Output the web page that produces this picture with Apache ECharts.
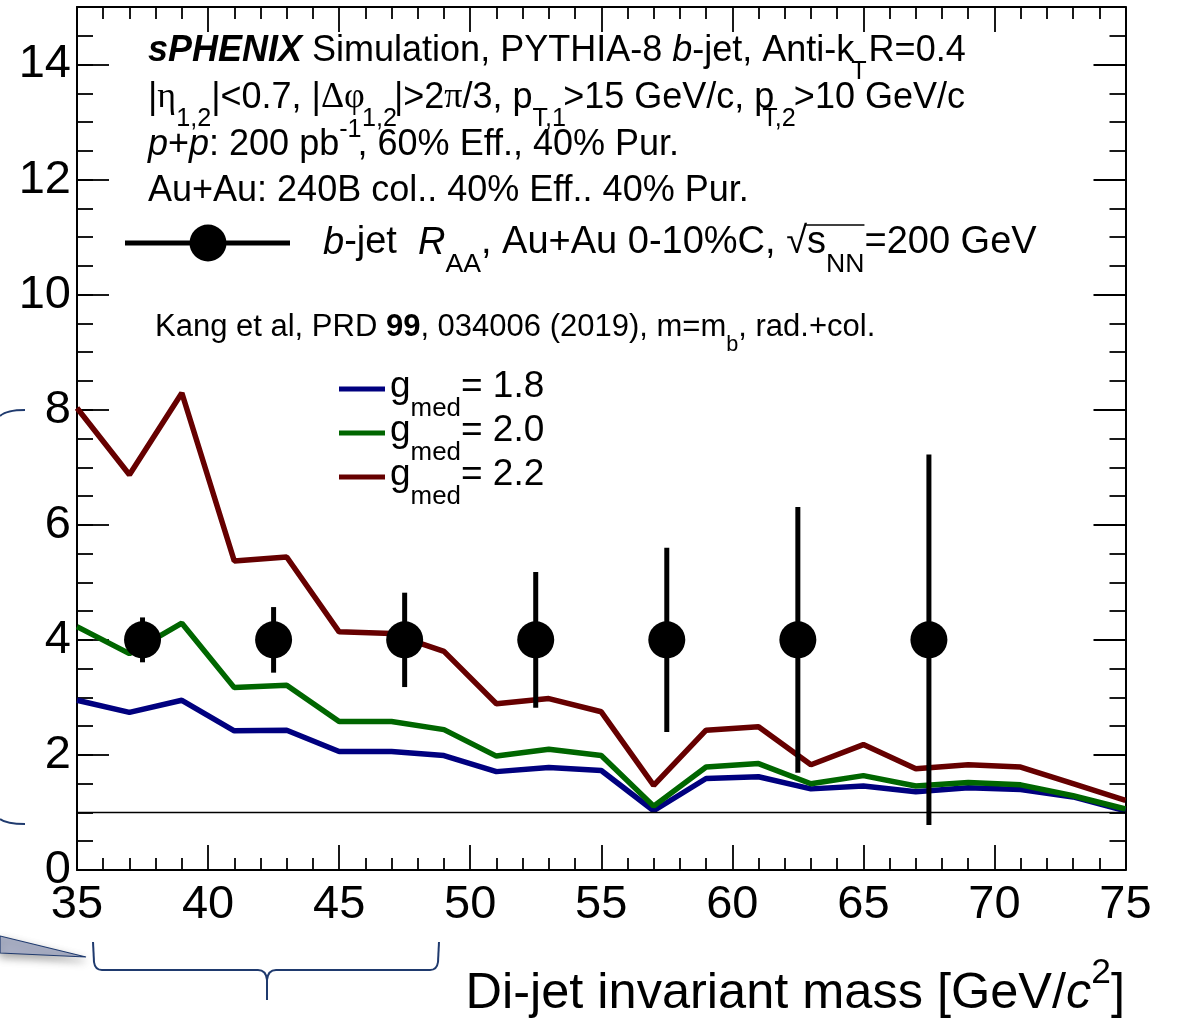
<!DOCTYPE html>
<html>
<head>
<meta charset="utf-8">
<script src="https://cdn.jsdelivr.net/npm/echarts@6/dist/echarts.min.js"></script>
<style>
  html, body { margin: 0; padding: 0; background: #fff; }
  #chart { width: 1178px; height: 1019px; }
</style>
</head>
<body>
<div id="chart"></div>
<script>
// ---- Theory curves (Kang et al., rad.+col.), one value per 2 GeV/c^2 ----
const massGrid = [35, 37, 39, 41, 43, 45, 47, 49, 51, 53, 55, 57, 59, 61, 63, 65, 67, 69, 71, 73, 75];
const raaG18 = [2.95, 2.74, 2.95, 2.42, 2.43, 2.06, 2.06, 1.99, 1.71, 1.78, 1.73, 1.03, 1.59, 1.62, 1.41, 1.46, 1.36, 1.43, 1.40, 1.27, 1.03];
const raaG20 = [4.23, 3.76, 4.29, 3.17, 3.21, 2.58, 2.58, 2.44, 1.98, 2.10, 1.99, 1.11, 1.79, 1.85, 1.50, 1.64, 1.46, 1.52, 1.48, 1.29, 1.06];
const raaG22 = [8.03, 6.87, 8.29, 5.37, 5.44, 4.14, 4.11, 3.80, 2.89, 2.98, 2.75, 1.47, 2.43, 2.49, 1.83, 2.18, 1.76, 1.83, 1.79, 1.50, 1.21];

// ---- Projected b-jet R_AA points with statistical uncertainties ----
const binCenters = [37.5, 42.5, 47.5, 52.5, 57.5, 62.5, 67.5];
const projValue = [4, 4, 4, 4, 4, 4, 4];
const projError = [0.39, 0.57, 0.82, 1.18, 1.60, 2.31, 3.22];

// ---- Axes ----
const xRange = [35, 75];
const xMajorStep = 5;
const yRange = [0, 15];
const yTickValues = [0, 2, 4, 6, 8, 10, 12, 14];
const yMinorStep = 0.5;
const unityLevel = 1;

const seriesColors = { g18: '#00007f', g20: '#006600', g22: '#660000' };
const FONT = '"Liberation Sans", Arial, Helvetica, sans-serif';
const SERIF = '"Liberation Serif", "DejaVu Serif", serif';

// ---------- small TLatex-like text layout (normal / italic / sub / sup) ----------
const measureCtx = document.createElement('canvas').getContext('2d');
function runStyle(kind, size) {
  const st = { size: size, italic: false, bold: false, family: FONT, dy: 0 };
  if (kind === 'i') st.italic = true;
  if (kind === 'b') st.bold = true;
  if (kind === 'bi') { st.bold = true; st.italic = true; }
  if (kind === 'g') st.family = SERIF;
  if (kind === 'sub') { st.size = size * 0.7; st.dy = size * 0.58; }
  if (kind === 'sup') { st.size = size * 0.7; st.dy = -size * 0.42; }
  return st;
}
function cssFont(st) {
  return (st.italic ? 'italic ' : '') + (st.bold ? 'bold ' : '') + st.size + 'px ' + st.family;
}
function latexText(x, y, size, parts, align) {
  const items = parts.map(p => {
    const st = runStyle(p.s || 'n', size);
    measureCtx.font = cssFont(st);
    const w = measureCtx.measureText(p.t).width;
    return { p: p, st: st, w: w, dx: p.dx || 0 };
  });
  const total = items.reduce((a, it) => a + it.w + it.dx, 0);
  let cx = align === 'right' ? x - total : x;
  const els = [];
  const pos = {};
  items.forEach(it => {
    cx += it.dx;
    els.push({
      type: 'text', z: 20, silent: true,
      x: cx, y: y + it.st.dy,
      style: {
        text: it.p.t, fill: '#000',
        fontSize: it.st.size, fontFamily: it.st.family,
        fontStyle: it.st.italic ? 'italic' : 'normal',
        fontWeight: it.st.bold ? 'bold' : 'normal',
        align: 'left', verticalAlign: 'middle'
      }
    });
    if (it.p.id) pos[it.p.id] = { x0: cx, x1: cx + it.w };
    cx += it.w;
  });
  return { els: els, pos: pos };
}

// ---------- text blocks ----------
const graphics = [];
const H = 36;
graphics.push(...latexText(148, 51, H, [
  { t: 'sPHENIX', s: 'bi' }, { t: ' Simulation, PYTHIA-8 ' }, { t: 'b', s: 'i' },
  { t: '-jet, Anti-k' }, { t: 'T', s: 'sub', dx: -3 }, { t: ' R=0.4', dx: -8 }
]).els);
graphics.push(...latexText(148, 98, H, [
  { t: '|' }, { t: 'η', s: 'g' }, { t: '1,2', s: 'sub' }, { t: '|<0.7, |' },
  { t: 'Δφ', s: 'g' }, { t: '1,2', s: 'sub', dx: -3 }, { t: '|>2', dx: -3 }, { t: 'π', s: 'g' },
  { t: '/3, p' }, { t: 'T,1', s: 'sub' }, { t: '>15 GeV/c, p', dx: -3 }, { t: 'T,2', s: 'sub', dx: -12 },
  { t: '>10 GeV/c', dx: -2 }
]).els);
graphics.push(...latexText(148, 145, H, [
  { t: 'p', s: 'i' }, { t: '+' }, { t: 'p', s: 'i' }, { t: ': 200 pb' },
  { t: '-1', s: 'sup' }, { t: ', 60% Eff., 40% Pur.', dx: -4 }
]).els);
graphics.push(...latexText(148, 191, H, [
  { t: 'Au+Au: 240B col.. 40% Eff.. 40% Pur.' }
]).els);

// legend entry for the projected points
const legendLine = latexText(323, 243, 38, [
  { t: 'b', s: 'i' }, { t: '-jet  ' }, { t: 'R', s: 'i' }, { t: 'AA', s: 'sub' },
  { t: ', Au+Au 0-10%C, ' }, { t: '√', id: 'rad' }, { t: 's', id: 's' },
  { t: 'NN', s: 'sub', id: 'nn' }, { t: '=200 GeV' }
]);
graphics.push(...legendLine.els);
graphics.push({
  type: 'line', z: 20, silent: true,
  shape: { x1: legendLine.pos.rad.x1 - 1, y1: 225, x2: legendLine.pos.nn.x1, y2: 225 },
  style: { stroke: '#000', lineWidth: 1.6 }
});
graphics.push({
  type: 'line', z: 20, silent: true,
  shape: { x1: 125, y1: 243, x2: 290, y2: 243 },
  style: { stroke: '#000', lineWidth: 5 }
});
graphics.push({
  type: 'circle', z: 21, silent: true,
  shape: { cx: 208, cy: 243, r: 18.5 },
  style: { fill: '#000' }
});

graphics.push(...latexText(155, 327, 31, [
  { t: 'Kang et al, PRD ' }, { t: '99', s: 'b' }, { t: ', 034006 (2019), m=m' },
  { t: 'b', s: 'sub' }, { t: ', rad.+col.' }
]).els);

// theory legend
const theoryLegend = [
  { label: '= 1.8', color: seriesColors.g18, y: 389 },
  { label: '= 2.0', color: seriesColors.g20, y: 433 },
  { label: '= 2.2', color: seriesColors.g22, y: 477 }
];
theoryLegend.forEach(e => {
  graphics.push({
    type: 'line', z: 20, silent: true,
    shape: { x1: 339, y1: e.y, x2: 385, y2: e.y },
    style: { stroke: e.color, lineWidth: 5 }
  });
  graphics.push(...latexText(390, e.y - 2, 37, [
    { t: 'g' }, { t: 'med', s: 'sub' }, { t: e.label }
  ]).els);
});

// x-axis title
graphics.push(...latexText(1125, 994, 50.5, [
  { t: 'Di-jet invariant mass [GeV/' }, { t: 'c', s: 'i' }, { t: '2', s: 'sup' }, { t: ']' }
], 'right').els);

// slide annotations around the frame
const annot = '#1f3a6e';
graphics.push({
  type: 'polygon', z: 1, silent: true,
  shape: { points: [[0, 936], [86, 957], [0, 953]] },
  style: { fill: '#aab0c6', stroke: annot, lineWidth: 1.2,
           shadowBlur: 8, shadowColor: 'rgba(0,0,0,0.35)', shadowOffsetY: 4 }
});
const bracketStyle = { stroke: annot, lineWidth: 2, fill: null };
[
  { type: 'line', shape: { x1: 93, y1: 942, x2: 94, y2: 962 } },
  { type: 'bezierCurve', shape: { x1: 94, y1: 962, cpx1: 95, cpy1: 970, x2: 102, y2: 970 } },
  { type: 'line', shape: { x1: 102, y1: 970, x2: 258, y2: 970 } },
  { type: 'bezierCurve', shape: { x1: 258, y1: 970, cpx1: 266, cpy1: 970, x2: 267, y2: 980 } },
  { type: 'line', shape: { x1: 267, y1: 980, x2: 267, y2: 1000 } },
  { type: 'bezierCurve', shape: { x1: 267, y1: 980, cpx1: 268, cpy1: 970, x2: 276, y2: 970 } },
  { type: 'line', shape: { x1: 276, y1: 970, x2: 430, y2: 970 } },
  { type: 'bezierCurve', shape: { x1: 430, y1: 970, cpx1: 437, cpy1: 970, x2: 438, y2: 962 } },
  { type: 'line', shape: { x1: 438, y1: 962, x2: 439, y2: 942 } },
  { type: 'bezierCurve', shape: { x1: 0, y1: 416, cpx1: 6, cpy1: 410, x2: 25, y2: 410 } },
  { type: 'bezierCurve', shape: { x1: 0, y1: 819, cpx1: 6, cpy1: 824, x2: 25, y2: 824 } }
].forEach(el => {
  graphics.push(Object.assign({ z: 1, silent: true, style: bracketStyle }, el));
});

// ---------- axes ----------
const black = '#000';
function xAx(pos, showLabel) {
  return {
    type: 'value', position: pos, min: xRange[0], max: xRange[1], interval: xMajorStep,
    axisLine: { show: true, onZero: false, lineStyle: { color: black, width: 2 } },
    axisTick: { show: true, inside: true, length: 25, lineStyle: { color: black, width: 1.8 } },
    minorTick: { show: true, splitNumber: 5, length: 12, lineStyle: { color: black, width: 1.8 } },
    axisLabel: { show: showLabel, color: black, fontSize: 47, fontFamily: FONT, margin: 12 },
    splitLine: { show: false }, minorSplitLine: { show: false }
  };
}
function yMajor(pos, showLabel) {
  return {
    type: 'value', position: pos, min: yRange[0], max: yRange[1],
    axisLine: { show: true, onZero: false, lineStyle: { color: black, width: 2 } },
    axisTick: { show: true, inside: true, length: 32, customValues: yTickValues,
                lineStyle: { color: black, width: 1.8 } },
    axisLabel: { show: showLabel, customValues: yTickValues, color: black, fontSize: 47,
                 fontFamily: FONT, margin: 6 },
    splitLine: { show: false }
  };
}
function yMinor(pos) {
  return {
    type: 'value', position: pos, min: yRange[0], max: yRange[1], interval: yMinorStep,
    axisLine: { show: false },
    axisTick: { show: true, inside: true, length: 16, lineStyle: { color: black, width: 1.8 } },
    axisLabel: { show: false }, splitLine: { show: false }
  };
}

const chart = echarts.init(document.getElementById('chart'), null, { renderer: 'canvas' });
chart.setOption({
  animation: false,
  backgroundColor: '#fff',
  grid: { left: 77, right: 52.5, top: 7, bottom: 149, containLabel: false },
  xAxis: [xAx('bottom', true), xAx('top', false)],
  yAxis: [yMajor('left', true), yMinor('left'), yMajor('right', false), yMinor('right')],
  series: [
    {
      name: 'g_med = 1.8', type: 'line', symbol: 'none', z: 3,
      data: massGrid.map((m, i) => [m, raaG18[i]]),
      lineStyle: { color: seriesColors.g18, width: 5.5 },
      markLine: {
        silent: true, symbol: 'none', label: { show: false },
        lineStyle: { color: black, width: 1.4, type: 'solid' },
        data: [{ yAxis: unityLevel }]
      }
    },
    {
      name: 'g_med = 2.0', type: 'line', symbol: 'none', z: 3,
      data: massGrid.map((m, i) => [m, raaG20[i]]),
      lineStyle: { color: seriesColors.g20, width: 5.5 }
    },
    {
      name: 'g_med = 2.2', type: 'line', symbol: 'none', z: 3,
      data: massGrid.map((m, i) => [m, raaG22[i]]),
      lineStyle: { color: seriesColors.g22, width: 5.5 }
    },
    {
      name: 'b-jet RAA errors', type: 'custom', z: 5,
      data: binCenters.map((m, i) => [m, projValue[i] - projError[i], projValue[i] + projError[i]]),
      encode: { x: 0, y: [1, 2] },
      renderItem: function (params, api) {
        const lo = api.coord([api.value(0), api.value(1)]);
        const hi = api.coord([api.value(0), api.value(2)]);
        return {
          type: 'line',
          shape: { x1: lo[0], y1: lo[1], x2: hi[0], y2: hi[1] },
          style: { stroke: black, lineWidth: 5 }
        };
      }
    },
    {
      name: 'b-jet RAA', type: 'scatter', z: 6, symbol: 'circle', symbolSize: 37,
      data: binCenters.map((m, i) => [m, projValue[i]]),
      itemStyle: { color: black, opacity: 1 }
    }
  ],
  graphic: graphics
});
</script>
</body>
</html>
